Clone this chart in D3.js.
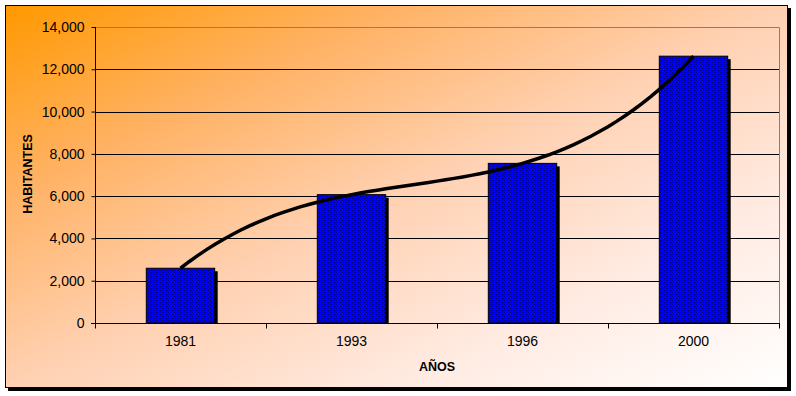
<!DOCTYPE html>
<html>
<head>
<meta charset="utf-8">
<script src="https://cdn.jsdelivr.net/npm/d3@7"></script>
<style>
  body { margin: 0; background: #ffffff; }
  svg text { font-family: "Liberation Sans", Arial, sans-serif; fill: #000; }
</style>
</head>
<body>
<div class="chartDiv"></div>
<script>
(function(){
  // data
  var years      = ["1981", "1993", "1996", "2000"];
  var habitantes = [2590, 6070, 7550, 12620];
  var yTicks     = [0, 2000, 4000, 6000, 8000, 10000, 12000, 14000];

  var width  = 796,
      height = 396,
      plot   = {left: 95, right: 779, top: 27, bottom: 323};

  var svg = d3.select(".chartDiv").append("svg")
      .attr("width", width)
      .attr("height", height);

  var defs = svg.append("defs");

  var grad = defs.append("linearGradient").attr("id", "bg")
      .attr("x1", 0).attr("y1", 0).attr("x2", 1).attr("y2", 1);
  [[0, "#ff9900"], [0.25, "#ffb264"], [0.5, "#ffd1b2"], [0.75, "#ffebe2"], [1, "#ffffff"]]
    .forEach(function(s){
      grad.append("stop").attr("offset", s[0]).attr("stop-color", s[1]);
    });

  // dotted bar fill
  var pat = defs.append("pattern").attr("id", "dots")
      .attr("patternUnits", "userSpaceOnUse")
      .attr("width", 6).attr("height", 4);
  pat.append("rect").attr("width", 6).attr("height", 4).attr("fill", "#0000ff");
  [[0, 0], [3, 0], [1, 2], [4, 2]].forEach(function(p){
    pat.append("rect").attr("x", p[0]).attr("y", p[1])
      .attr("width", 1).attr("height", 1).attr("fill", "#000066");
  });

  // chart frame with shadow
  svg.append("rect").attr("x", 8).attr("y", 8).attr("width", 783).attr("height", 383)
      .attr("fill", "#000");
  svg.append("rect").attr("x", 5.5).attr("y", 5.5).attr("width", 782).attr("height", 382)
      .attr("fill", "url(#bg)").attr("stroke", "#000").attr("stroke-width", 1);

  var x = d3.scaleBand().domain(years).range([plot.left, plot.right]);
  var y = d3.scaleLinear().domain([0, 14000]).range([plot.bottom, plot.top]);

  // gridlines
  svg.append("g").selectAll("line").data(yTicks.slice(1, -1)).enter().append("line")
      .attr("x1", plot.left).attr("x2", plot.right)
      .attr("y1", function(d){ return Math.round(y(d)) + 0.5; })
      .attr("y2", function(d){ return Math.round(y(d)) + 0.5; })
      .attr("stroke", "#000");

  // plot area border top / right
  svg.append("path")
      .attr("d", "M" + plot.left + "," + (plot.top + 0.5) + "H" + (plot.right + 0.5) + "V" + plot.bottom)
      .attr("fill", "none").attr("stroke", "#808080");

  // bars
  var barW = x.bandwidth() * 0.4;
  var bars = svg.append("g").selectAll("g").data(years).enter().append("g");
  bars.append("rect")
      .attr("x", function(d){ return x(d) + (x.bandwidth() - barW) / 2 + 3; })
      .attr("y", function(d, i){ return y(habitantes[i]) + 3; })
      .attr("width", barW)
      .attr("height", function(d, i){ return y(0) - y(habitantes[i]) - 3; })
      .attr("fill", "#000");
  bars.append("rect")
      .attr("x", function(d){ return x(d) + (x.bandwidth() - barW) / 2; })
      .attr("y", function(d, i){ return y(habitantes[i]); })
      .attr("width", barW)
      .attr("height", function(d, i){ return y(0) - y(habitantes[i]); })
      .attr("fill", "url(#dots)").attr("stroke", "#000").attr("stroke-width", 1);

  // polynomial (order 3) trendline through the series
  var n = habitantes.length;
  function poly(t){
    var s = 0;
    for(var i = 0; i < n; i++){
      var l = 1;
      for(var j = 0; j < n; j++){ if(j !== i){ l *= (t - j) / (i - j); } }
      s += l * habitantes[i];
    }
    return s;
  }
  var xi = d3.scaleLinear().domain([0, n - 1])
      .range([x(years[0]) + x.bandwidth() / 2, x(years[n - 1]) + x.bandwidth() / 2]);
  var ts = d3.range(0, n - 1 + 0.001, 0.05);
  svg.append("path").datum(ts)
      .attr("d", d3.line().x(function(t){ return xi(t); }).y(function(t){ return y(poly(t)); }))
      .attr("fill", "none").attr("stroke", "#000").attr("stroke-width", 3.5);

  // y axis
  var yAxis = svg.append("g").attr("transform", "translate(" + (plot.left + 0.5) + ",0)")
      .call(d3.axisLeft(y).tickValues(yTicks).tickSize(4).tickPadding(7)
        .tickFormat(d3.format(",")));
  yAxis.select(".domain").attr("stroke", "#000").attr("d", "M0," + plot.top + "V" + (plot.bottom + 1));
  yAxis.selectAll("text").style("font-size", "14px");

  // x axis
  var xAxis = svg.append("g").attr("transform", "translate(0," + (plot.bottom + 0.5) + ")")
      .call(d3.axisBottom(x).tickSize(0).tickPadding(13));
  xAxis.select(".domain").remove();
  xAxis.append("line").attr("x1", plot.left - 4).attr("x2", plot.right + 1).attr("stroke", "#000");
  xAxis.selectAll(".sep").data(d3.range(n + 1)).enter().append("line")
      .attr("x1", function(i){ return Math.round(plot.left + i * x.step()) + 0.5; })
      .attr("x2", function(i){ return Math.round(plot.left + i * x.step()) + 0.5; })
      .attr("y1", 0).attr("y2", 5).attr("stroke", "#000");
  xAxis.selectAll("text").style("font-size", "14px");

  // axis titles
  svg.append("text").attr("x", (plot.left + plot.right) / 2).attr("y", 371)
      .attr("text-anchor", "middle").style("font-size", "12.5px").style("font-weight", "bold")
      .text("AÑOS");
  svg.append("text").attr("transform", "translate(32,174) rotate(-90)")
      .attr("text-anchor", "middle").style("font-size", "12.5px").style("font-weight", "bold")
      .text("HABITANTES");
})();
</script>
</body>
</html>
